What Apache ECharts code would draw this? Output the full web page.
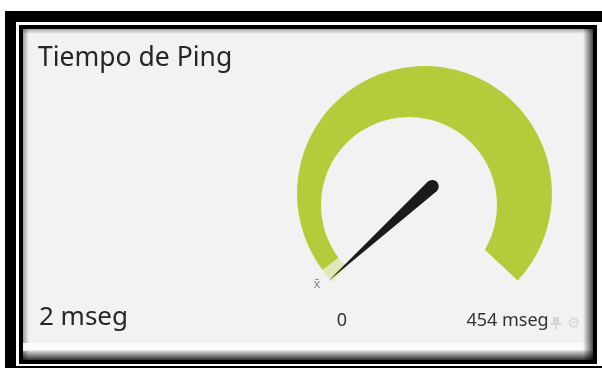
<!DOCTYPE html>
<html><head><meta charset="utf-8">
<script src="https://cdn.jsdelivr.net/npm/echarts@6/dist/echarts.min.js"></script>
<style>html,body{margin:0;padding:0;background:#fff;}#c{width:602px;height:368px;}</style>
</head><body><div id="c"></div>
<script>
// ---- data ----
const titleText = 'Tiempo de Ping';
const unitText = 'mseg';
const gaugeMin = 0;
const gaugeMax = 454;
const pingValue = [2];
const scaleLabels = ['0', '454 mseg'];
const meanMarker = 'x\u0304';

// ---- style ----
const FONT = 'Noto Sans';
const GREEN = '#b4cc3a';
const PALE = '#dfe8b6';
const PANEL = '#f2f2f2';
const CX = 424.5, CY = 193.5, R = 127.5;
const START = 223.5, END = -43;

const chart = echarts.init(document.getElementById('c'), null, {renderer: 'canvas'});

function grad(x2, y2, c1, c2) {
  return {type: 'linear', x: 0, y: 0, x2: x2, y2: y2, colorStops: [{offset: 0, color: c1}, {offset: 1, color: c2}]};
}

const frame = [
  {type: 'rect', z: -20, shape: {x: 5, y: 11, width: 600, height: 360}, style: {fill: '#000'}},
  {type: 'rect', z: -19, shape: {x: 16, y: 22, width: 590, height: 344}, style: {fill: '#fff'}},
  {type: 'rect', z: -18, shape: {x: 19, y: 25, width: 578, height: 339}, style: {fill: '#000'}},
  {type: 'rect', z: -17, shape: {x: 23, y: 29, width: 570, height: 331}, style: {fill: PANEL}},
  {type: 'rect', z: -16, shape: {x: 23, y: 29, width: 6, height: 331}, style: {fill: grad(1, 0, 'rgba(0,0,0,0.35)', 'rgba(0,0,0,0)')}},
  {type: 'rect', z: -16, shape: {x: 23, y: 29, width: 570, height: 5}, style: {fill: grad(0, 1, 'rgba(0,0,0,0.3)', 'rgba(0,0,0,0)')}},
  {type: 'rect', z: -15, shape: {x: 23, y: 343, width: 570, height: 8}, style: {fill: '#fbfbfb'}},
  {type: 'rect', z: -14, shape: {x: 23, y: 350, width: 570, height: 10}, style: {fill: grad(0, 1, 'rgba(0,0,0,0.05)', 'rgba(0,0,0,0.8)')}},
  {type: 'rect', z: -13, shape: {x: 583, y: 29, width: 10, height: 331}, style: {fill: grad(1, 0, 'rgba(0,0,0,0)', 'rgba(0,0,0,0.7)')}}
];

const texts = [
  {type: 'text', z: 100, x: 38, y: 58, style: {text: titleText, font: '26.5px "' + FONT + '"', fill: '#262626', verticalAlign: 'middle', align: 'left'}},
  {type: 'text', z: 100, x: 342, y: 321, style: {text: scaleLabels[0], font: '18px "' + FONT + '"', fill: '#333', verticalAlign: 'middle', align: 'center'}},
  {type: 'text', z: 100, x: 507.5, y: 321, style: {text: scaleLabels[1], font: '18px "' + FONT + '"', fill: '#333', verticalAlign: 'middle', align: 'center'}},
  {type: 'text', z: 100, x: 317, y: 284, style: {text: meanMarker, font: '13px "' + FONT + '"', fill: '#8a8a8a', verticalAlign: 'middle', align: 'center'}},
  {type: 'text', z: 100, x: 574, y: 324, style: {text: '\u2699', font: '15px "DejaVu Sans"', fill: '#d6d6d6', verticalAlign: 'middle', align: 'center'}},
  {type: 'group', z: 100, x: 556, y: 323, children: [
    {type: 'rect', shape: {x: -3, y: -6, width: 6, height: 7}, style: {fill: '#d6d6d6'}},
    {type: 'rect', shape: {x: -5, y: 0, width: 10, height: 2}, style: {fill: '#d6d6d6'}},
    {type: 'rect', shape: {x: -0.75, y: 2, width: 1.5, height: 5}, style: {fill: '#d6d6d6'}}
  ]}
];

const option = {
  backgroundColor: '#ffffff',
  animation: false,
  graphic: {elements: frame.concat(texts)},
  series: [
    {
      type: 'gauge', z: 2, center: [CX, CY], radius: R, startAngle: START, endAngle: END,
      min: gaugeMin, max: gaugeMax, silent: true,
      axisLine: {lineStyle: {width: R, color: [[0.025, PALE], [1, GREEN]]}},
      axisTick: {show: false}, splitLine: {show: false}, axisLabel: {show: false},
      pointer: {show: false}, anchor: {show: false}, title: {show: false}, detail: {show: false},
      data: [{value: pingValue[0]}]
    },
    {
      type: 'pie', z: 3, center: [409, 205], radius: 88, silent: true,
      label: {show: false}, labelLine: {show: false},
      itemStyle: {color: PANEL, borderWidth: 0},
      data: [{value: 1}]
    },
    {
      type: 'gauge', z: 6, center: [CX, CY], radius: R, startAngle: START, endAngle: END,
      min: gaugeMin, max: gaugeMax, silent: true,
      axisLine: {show: false},
      axisTick: {show: false}, splitLine: {show: false}, axisLabel: {show: false},
      anchor: {show: false}, title: {show: false},
      pointer: {
        show: true,
        icon: 'path://M6.5 0 L13 140.5 A6.5 6.5 0 0 1 0 140.5 Z',
        width: 13, length: 147, offsetCenter: [0, 17],
        itemStyle: {color: '#1b1b1b'}
      },
      detail: {
        show: true, valueAnimation: false,
        formatter: function (v) { return v + ' ' + unitText; },
        offsetCenter: [83.5 - CX, 318 - CY],
        fontFamily: FONT, fontSize: 26, fontWeight: 'normal', color: '#262626'
      },
      data: [{value: pingValue[0]}]
    }
  ]
};
chart.setOption(option);
</script>
</body></html>
